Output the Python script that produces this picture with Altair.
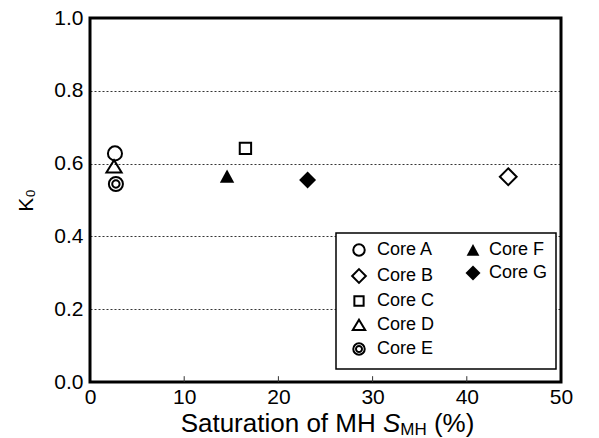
import altair as alt
import pandas as pd

# ---- data ----
cores = ["Core A", "Core B", "Core C", "Core D", "Core E", "Core F", "Core G"]
saturation = [2.65, 44.4, 16.5, 2.55, 2.75, 14.55, 23.1]
k0 = [0.628, 0.564, 0.642, 0.592, 0.544, 0.565, 0.555]
open_cores = ["Core A", "Core B", "Core C", "Core D", "Core E"]
filled_cores = ["Core F", "Core G"]
x_ticks = [0, 10, 20, 30, 40, 50]
y_ticks = [0.0, 0.2, 0.4, 0.6, 0.8, 1.0]
inner_x_ticks = [10, 20, 30, 40]

FONT = "Liberation Sans"
W, H = 471, 364

df = pd.DataFrame({"core": cores, "s": saturation, "k": k0})
df_open = df[df["core"].isin(open_cores)]
df_fill = df[df["core"].isin(filled_cores)]

CIRCLE = "M -0.88 0 A 0.88 0.88 0 1 0 0.88 0 A 0.88 0.88 0 1 0 -0.88 0 Z"
DIAMOND = "M 0 -1.05 L 1.05 0 L 0 1.05 L -1.05 0 Z"
SQUARE = "M -0.71 -0.71 L 0.71 -0.71 L 0.71 0.71 L -0.71 0.71 Z"
TRI = "M 0 -0.8 L 0.95 0.75 L -0.95 0.75 Z"
DOUBLE = CIRCLE + " M -0.46 0 A 0.46 0.46 0 1 0 0.46 0 A 0.46 0.46 0 1 0 -0.46 0 Z"
TRI_F = "M 0 -0.85 L 0.9 0.8 L -0.9 0.8 Z"
DIAMOND_F = "M 0 -1.06 L 1.06 0 L 0 1.06 L -1.06 0 Z"

xscale = alt.Scale(domain=[0, 50], nice=False)
yscale = alt.Scale(domain=[0, 1], nice=False)
xaxis = alt.Axis(values=x_ticks, format="d", title=None, grid=False, ticks=False,
                 domain=False, labelPadding=4, labelFlush=False)
yaxis = alt.Axis(values=y_ticks, format=".1f", title="K\u2080", grid=True,
                 gridDash=[2, 2], gridColor="black", gridWidth=0.8, gridOpacity=1,
                 ticks=False, domain=False, labelPadding=7, titlePadding=17,
                 titleFontSize=21, titleFontWeight="normal", titleFont=FONT,
                 titleColor="black")

X = alt.X("s:Q", scale=xscale, axis=xaxis)
Y = alt.Y("k:Q", scale=yscale, axis=yaxis)

# inward ticks on the bottom edge
tick_df = pd.DataFrame({"s": inner_x_ticks, "k": [0.0] * 4, "k2": [0.016] * 4})
ticks = alt.Chart(tick_df).mark_rule(color="#333333", strokeWidth=1).encode(
    x=X, y=Y, y2="k2:Q")

box = alt.Chart(pd.DataFrame({"a": [0]})).mark_rect(
    fill="white", stroke="black", strokeWidth=1.5).encode(
    x=alt.value(246), x2=alt.value(466), y=alt.value(215), y2=alt.value(351))

open_pts = alt.Chart(df_open).mark_point(
    filled=False, color="black", strokeWidth=2, opacity=1, size=256).encode(
    x=X, y=Y,
    shape=alt.Shape("core:N",
                    scale=alt.Scale(domain=open_cores,
                                    range=[CIRCLE, DIAMOND, SQUARE, TRI, DOUBLE]),
                    legend=alt.Legend(orient="none", legendX=260, legendY=223,
                                      title=None, symbolSize=170,
                                      symbolStrokeWidth=2,
                                      symbolStrokeColor="black",
                                      symbolFillColor="transparent",
                                      labelFont=FONT, labelFontSize=18,
                                      labelColor="black",
                                      rowPadding=5, labelOffset=9, padding=0)))

fill_pts = alt.Chart(df_fill).mark_point(
    filled=True, color="black", opacity=1, size=256, strokeWidth=0).encode(
    x=X, y=Y,
    shape=alt.Shape("core:N",
                    scale=alt.Scale(domain=filled_cores, range=[TRI_F, DIAMOND_F]),
                    legend=alt.Legend(orient="none", legendX=374, legendY=223,
                                      title=None, symbolSize=200,
                                      symbolStrokeWidth=0,
                                      symbolFillColor="black",
                                      labelFont=FONT, labelFontSize=18,
                                      labelColor="black",
                                      rowPadding=5, labelOffset=7, padding=0)))

# x axis title with italic S and subscript MH
widths = {"S": 667, "a": 556, "t": 278, "u": 556, "r": 333, "i": 222, "o": 556,
          "n": 556, " ": 278, "f": 278, "M": 833, "H": 722, "(": 333, "%": 889,
          ")": 333}


def tw(s, size):
    return sum(widths[c] for c in s) * size / 1000.0


TS, SUB = 26, 17
parts = [("Saturation of MH ", TS, "normal", 0), ("S", TS, "italic", 0),
         ("MH", SUB, "normal", 3), (" (%)", TS, "normal", 0)]
total = sum(tw(p[0], p[1]) for p in parts)
x0 = W / 2 + 2 - total / 2
base_y = 414
title_layers = []
cx = x0
for txt, size, style, dy in parts:
    stripped = txt.strip()
    lead = len(txt) - len(txt.lstrip())
    title_layers.append(
        alt.Chart(pd.DataFrame({"t": [stripped]})).mark_text(
            align="left", baseline="alphabetic", font=FONT, fontSize=size,
            fontStyle=style, color="black").encode(
            x=alt.value(cx + lead * widths[" "] * size / 1000.0),
            y=alt.value(base_y + dy), text="t:N"))
    cx += tw(txt, size)

chart = alt.layer(ticks, box, open_pts, fill_pts, *title_layers).resolve_scale(
    shape="independent"
).properties(
    width=W, height=H,
    autosize=alt.AutoSizeParams(type="none"),
    padding={"left": 82, "top": 10, "right": 22, "bottom": 56},
    background="white",
).configure_view(
    stroke="black", strokeWidth=3
).configure_axis(
    labelFont=FONT, labelFontSize=21, labelColor="black"
)

chart.save("out.html", embed_options={"renderer": "svg", "actions": False})
